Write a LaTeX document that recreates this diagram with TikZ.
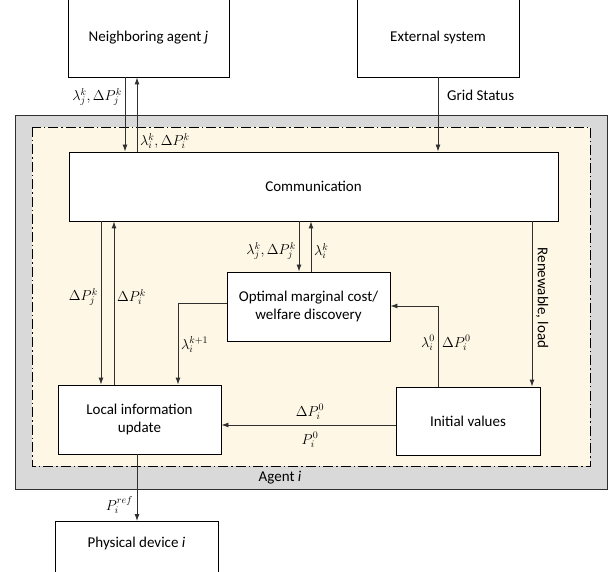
\documentclass[tikz,border=0pt]{standalone}
\usepackage{fontspec}
\setmainfont{Carlito}
\usetikzlibrary{arrows.meta}
\definecolor{agentgray}{HTML}{D9D9D9}
\definecolor{cream}{HTML}{FEF7E6}
\definecolor{linec}{HTML}{303030}
\tikzset{
  box/.style={draw=black, fill=white, line width=0.9pt, inner sep=2pt, align=center, font=\fontsize{15}{18}\selectfont},
  flow/.style={draw=linec, line width=0.9pt, -{Latex[length=7pt,width=5pt]}},
  mlab/.style={inner sep=1pt, font=\fontsize{14}{16}\selectfont},
  slab/.style={inner sep=1pt, font=\fontsize{15}{18}\selectfont},
}
\begin{document}
\begin{tikzpicture}[x=1pt,y=-1pt]
\useasboundingbox (0,0) rectangle (611,572);
% agent background
\draw[fill=agentgray, draw=linec, line width=0.9pt] (15,115) rectangle (607,489);
\draw[fill=cream, draw=black, line width=0.8pt, dash pattern=on 10pt off 3pt on 1.5pt off 3pt] (32,127) rectangle (590,466);
\node[slab] (agent) at (280,478) {Agent \textit{i}};
% boxes
\node[box, minimum width=161, minimum height=78] (nb) at (148.5,38) {Neighboring agent \textit{j}};
\node[box, minimum width=162, minimum height=78] (ext) at (438,38) {External system};
\node[box, minimum width=489, minimum height=69] (comm) at (313.5,186.5) {Communication};
\node[box, minimum width=163, minimum height=69] (opt) at (308.5,306.5) {Optimal marginal cost/\\welfare discovery};
\node[box, minimum width=163, minimum height=69] (loc) at (139.5,419.5) {Local information\\update};
\node[box, minimum width=144, minimum height=68] (init) at (468,421) {Initial values};
\node[box, anchor=north, minimum width=163, minimum height=60, label={[font=\fontsize{15}{18}\selectfont, yshift=8pt]center:Physical device \textit{i}}] (phys) at (136.5,521) {};
% coordinates
\coordinate (c1) at (178,303);
\coordinate (c2) at (438,306);
% connectors
\draw[flow] (nb.south -| 125,0) -- (comm.north -| 125,0);
\draw[flow] (comm.north -| 137,0) -- (nb.south -| 137,0);
\node[mlab, anchor=east] at (123,97) {$\lambda_j^k,\Delta P_j^k$};
\node[mlab, anchor=west] at (139,141) {$\lambda_i^k,\Delta P_i^k$};
\draw[flow] (ext.south -| 438,0) -- (comm.north -| 438,0);
\node[slab, anchor=west] at (446,95) {Grid Status};
\draw[flow] (comm.south -| 101,0) -- (loc.north -| 101,0);
\draw[flow] (loc.north -| 114,0) -- (comm.south -| 114,0);
\node[mlab, anchor=east] at (99,297) {$\Delta P_j^k$};
\node[mlab, anchor=west] at (116,297) {$\Delta P_i^k$};
\draw[flow] (comm.south -| 299,0) -- (opt.north -| 299,0);
\draw[flow] (opt.north -| 311,0) -- (comm.south -| 311,0);
\node[mlab, anchor=east] at (297,251) {$\lambda_j^k,\Delta P_j^k$};
\node[mlab, anchor=west] at (313,251) {$\lambda_i^k$};
\draw[flow] (opt.west |- c1) -- (c1) -- (loc.north -| c1);
\node[mlab, anchor=west] at (180,345) {$\lambda_i^{k+1}$};
\draw[flow] (init.north -| c2) -- (c2) -- (opt.east |- c2);
\node[mlab, anchor=east] at (436,343) {$\lambda_i^0$};
\node[mlab, anchor=west] at (441,343) {$\Delta P_i^0$};
\draw[flow] (comm.south -| 532,0) -- (init.north -| 532,0);
\node[slab, rotate=-90] at (542,298) {Renewable, load};
\draw[flow] (init.west |- 0,425) -- (loc.east |- 0,425);
\node[mlab] at (310,412) {$\Delta P_i^0$};
\node[mlab] at (310,440) {$P_i^0$};
\draw[flow] (loc.south -| 137,0) -- (phys.north -| 137,0);
\node[mlab, anchor=east] at (134,505) {$P_i^{ref}$};
\end{tikzpicture}
\end{document}
